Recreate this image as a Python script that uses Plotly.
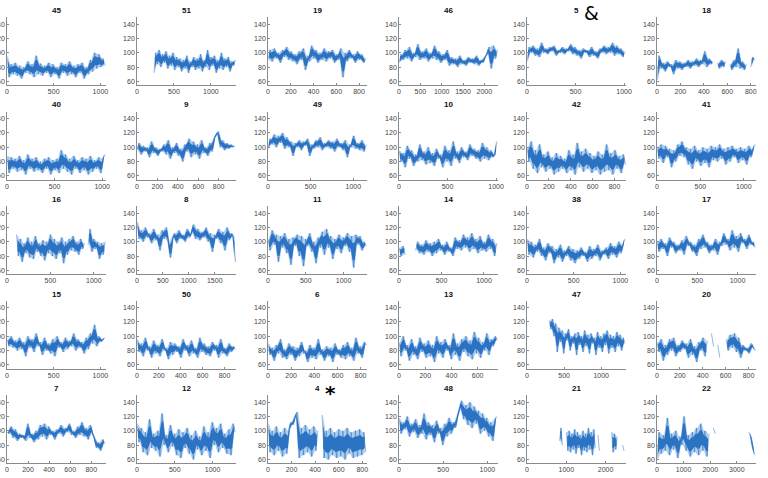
import numpy as np
import plotly.graph_objects as go

# ---- subplot titles, row by row ----
titles = ["45", "51", "19", "46", "5", "18",
          "40", "9", "49", "10", "42", "41",
          "16", "8", "11", "14", "38", "17",
          "15", "50", "6", "13", "47", "20",
          "7", "12", "4", "48", "21", "22"]

# first / last sample index of each trace and the x-axis limit
x_start = [0, 230, 0, 0, 0, 0,
           0, 0, 0, 0, 0, 0,
           110, 0, 0, 0, 0, 0,
           0, 0, 0, 0, 300, 0,
           0, 0, 0, 0, 830, 0]
x_end = [1050, 1330, 860, 2310, 1010, 835,
         1030, 960, 1150, 1010, 900, 1130,
         1130, 1900, 1300, 1150, 1050, 1220,
         1050, 900, 850, 750, 1320, 860,
         930, 1300, 830, 1110, 2470, 3680]
x_max = [1060, 1340, 870, 2320, 1020, 845,
         1040, 970, 1160, 1020, 905, 1140,
         1140, 1910, 1310, 1165, 1060, 1230,
         1060, 905, 855, 755, 1335, 865,
         940, 1310, 840, 1120, 2520, 3720]

# ---- values (alternating peaks / troughs) ----
s45 = [95,66,84,70,86,68,82,64,80,72,88,70,84,66,96,70,85,68,82,72,86,66,84,70,80,64,86,72,84,68,88,70,82,66,84,72,86,64,80,70,90,74,100,78,98,80,92,82]
s51 = [72,100,84,104,80,98,86,102,78,96,82,100,76,94,80,92,74,90,78,96,72,88,80,94,76,92,78,98,74,90,80,104,76,94,82,96,72,90,78,100,76,92,80,94,74,88,82,90]
s19 = [90,104,88,106,92,100,86,104,94,108,90,102,88,98,84,102,90,106,76,96,88,110,92,104,86,100,90,106,88,102,92,104,86,98,90,106,66,100,88,104,92,98,86,102,90,98,86,92]
s46 = [86,98,90,104,92,108,88,100,94,112,90,102,92,106,88,100,92,110,90,102,86,98,90,104,82,94,84,92,80,96,84,90,82,94,86,92,84,96,82,90,86,94,98,108,78,110,92,104]
s5 = [88,108,100,110,96,106,94,114,100,106,98,108,102,110,96,104,100,108,98,106,102,112,98,108,96,104,92,106,100,104,94,108,96,102,92,106,100,110,98,108,100,114,96,110,98,106,94,102]
s18 = [62,96,78,86,74,88,80,84,70,90,78,88,76,86,80,90,78,88,82,92,80,90,84,102,80,92,84,88,None,86,78,90,80,88,None,84,76,90,80,106,78,88,76,84,None,80,94,90]

s40 = [88,64,86,70,84,66,88,68,82,62,90,70,84,66,86,68,80,64,84,70,86,62,82,68,84,64,96,70,90,66,84,62,88,70,82,64,86,68,84,62,88,66,82,70,86,64,84,90]
s9 = [96,106,90,102,94,100,86,108,92,100,88,98,94,104,90,110,84,100,92,106,88,98,80,104,94,112,86,108,90,104,84,110,92,100,88,106,94,112,118,122,100,110,96,106,98,104,100,102]
s49 = [98,112,104,118,100,116,106,120,98,114,100,108,88,106,100,110,96,108,102,112,88,104,98,110,100,114,96,106,100,110,98,108,94,112,100,106,96,110,86,104,100,116,98,106,96,110,94,104]
s10 = [96,80,92,72,102,84,96,74,90,80,104,82,94,76,100,78,92,74,98,84,90,72,102,80,96,74,108,84,94,78,100,86,94,82,104,88,98,84,96,80,106,84,100,82,96,86,90,108]
s42 = [100,80,108,70,96,64,104,72,90,66,94,70,86,62,92,66,88,70,84,64,96,68,90,62,106,72,94,66,98,70,92,64,88,68,94,62,90,66,104,68,92,62,96,70,88,64,90,76]
s41 = [100,84,104,78,102,86,98,72,96,80,104,88,108,86,100,76,98,70,102,80,96,74,100,78,98,72,102,82,100,80,104,84,98,76,100,80,102,86,98,78,100,82,98,76,102,86,98,104]

s16 = [110,80,104,72,98,84,106,78,100,76,108,86,98,80,102,74,100,84,110,80,104,76,100,84,106,70,100,82,104,88,108,86,100,82,104,90,98,None,96,118,86,104,90,100,76,98,82,100]
s8 = [128,104,116,100,120,106,112,98,118,102,110,88,116,104,120,100,78,106,112,98,116,104,110,100,118,106,112,124,104,118,102,114,106,120,100,112,86,110,104,118,98,114,88,120,102,112,108,72]
s11 = [104,88,116,96,110,72,108,92,112,84,104,68,106,94,110,80,108,66,104,94,112,86,100,70,106,92,114,82,118,92,108,76,104,90,110,84,106,94,112,86,108,64,110,96,108,88,100,94]
s14 = [92,80,94,82,None,None,92,None,88,100,84,96,82,102,86,98,80,100,84,104,88,96,82,100,86,92,80,106,90,102,88,110,92,106,86,112,90,104,84,108,88,100,86,110,90,104,80,98]
s38 = [104,82,100,78,96,86,104,80,92,74,98,84,94,70,90,78,96,72,88,80,94,74,90,70,88,76,92,80,86,72,94,76,90,80,96,74,88,82,92,76,98,82,94,78,100,84,96,104]
s17 = [100,86,104,90,98,80,106,92,100,84,96,88,102,82,108,94,100,86,96,80,104,90,110,92,100,84,96,88,104,82,100,94,112,96,104,88,116,92,108,86,112,98,104,90,110,96,100,92]

s15 = [96,86,100,84,94,80,98,82,92,72,100,84,96,78,104,86,92,74,98,80,90,76,96,72,100,84,92,78,98,82,94,86,104,80,96,84,92,76,98,82,104,90,116,86,100,92,96,98]
s50 = [96,78,90,72,98,80,86,70,94,76,88,72,96,80,84,68,92,74,90,78,86,70,96,80,88,72,94,76,84,70,98,78,90,74,86,72,92,80,88,70,96,76,84,72,90,78,86,82]
s6 = [90,74,84,66,88,76,96,70,82,68,90,74,86,66,84,72,92,76,80,64,88,70,84,68,96,74,82,66,86,72,84,64,90,74,82,70,88,68,92,72,84,66,98,76,86,70,92,88]
s13 = [92,72,100,80,88,66,96,74,86,68,98,78,90,70,94,72,88,64,100,76,92,70,96,80,88,68,104,74,90,66,96,78,100,72,94,68,106,76,98,70,92,80,104,74,96,86,100,94]
s47 = [122,110,124,100,118,78,112,92,108,76,104,94,110,80,100,90,104,74,106,88,100,78,108,86,102,76,104,90,98,74,106,84,100,78,104,88,108,76,102,84,100,78,106,86,102,80,98,90]
s20 = [92,78,96,66,88,74,96,80,98,72,88,78,94,82,90,70,96,74,86,64,92,80,98,72,94,None,104,86,None,88,70,None,None,96,80,102,84,104,78,98,70,88,80,84,76,90,84,80]

s7 = [98,96,106,90,102,86,96,90,94,86,110,90,96,84,100,88,108,92,110,88,106,94,100,88,102,96,108,92,104,98,110,94,100,90,106,94,112,92,104,88,108,96,90,76,84,72,88,82]
s12 = [110,84,104,70,98,66,116,76,96,72,100,64,124,80,94,70,108,78,96,66,102,62,98,76,104,68,94,60,100,74,92,66,106,72,98,62,112,80,104,70,110,76,96,68,102,66,110,98]
s4 = [110,70,100,66,106,72,98,64,104,68,100,112,108,120,126,62,104,66,108,70,102,64,106,72,100,None,122,62,100,60,104,66,98,62,102,64,100,60,104,68,98,62,100,64,102,66,98,70]
s48 = [118,96,112,102,120,92,110,98,116,90,108,96,124,88,112,94,108,84,114,96,104,80,110,92,118,96,112,104,120,130,142,116,136,108,140,104,134,110,128,96,124,100,118,92,112,86,116,120]
s21 = [86,104,80,None,None,98,72,100,70,96,74,102,68,98,76,94,66,100,72,96,70,104,74,98,66,102,76,None,94,72,None,None,108,None,None,None,None,None,98,70,96,74,92,None,None,None,80,72]
s22 = [60,98,68,94,72,118,66,96,74,100,62,92,80,120,72,94,64,98,70,104,66,110,72,100,64,96,None,104,96,None,None,None,None,None,None,None,None,None,None,None,None,None,None,None,98,92,76,66]

series = [s45, s51, s19, s46, s5, s18,
          s40, s9, s49, s10, s42, s41,
          s16, s8, s11, s14, s38, s17,
          s15, s50, s6, s13, s47, s20,
          s7, s12, s4, s48, s21, s22]

y_ticks = [60, 80, 100, 120, 140]
y_range = [55, 150]

# ---- layout geometry (pixels) ----
W, H = 768, 478
col_left = [7, 137, 268, 399, 527, 657]
ax_w = 99
ax_h = 68
row_bottom0 = 85
row_step = 94.5


def runs_of(xs, vals):
    runs, cur = [], []
    for x, v in zip(xs, vals):
        if v is None:
            if cur:
                runs.append(cur)
            cur = []
        else:
            cur.append((x, v))
    if cur:
        runs.append(cur)
    return runs


def band_polygon(xs, vals, frac):
    """Pairwise envelope of the samples; frac<1 narrows it about its centre."""
    px, py = [], []
    for run in runs_of(xs, vals):
        if len(run) < 3:
            continue
        ux, uy, ly = [], [], []
        for a, b in zip(run[:-1], run[1:]):
            hi, lo = max(a[1], b[1]), min(a[1], b[1])
            mid, half = (hi + lo) / 2, (hi - lo) / 2 * frac
            ux.append((a[0] + b[0]) / 2)
            uy.append(mid + half)
            ly.append(mid - half)
        px += ux + ux[::-1] + [ux[0], None]
        py += uy + ly[::-1] + [uy[0], None]
    return px, py


fig = go.Figure()
layout = dict(width=W, height=H, margin=dict(l=0, r=0, t=0, b=0, autoexpand=False),
              paper_bgcolor="white", plot_bgcolor="white", showlegend=False,
              font=dict(family="Arial, Liberation Sans, sans-serif", size=8, color="#444"))
annotations = []

for i, (t, vals) in enumerate(zip(titles, series)):
    r, c = divmod(i, 6)
    n = i + 1
    xa = "x" if n == 1 else f"x{n}"
    ya = "y" if n == 1 else f"y{n}"
    xs = list(np.linspace(x_start[i], x_end[i], len(vals)))
    bx, by = band_polygon(xs, vals, 1.0)
    fig.add_trace(go.Scatter(x=bx, y=by, mode="lines", xaxis=xa, yaxis=ya,
                             fill="toself", fillcolor="rgba(120,172,228,0.6)",
                             line=dict(width=0), hoverinfo="skip"))
    cx, cy = band_polygon(xs, vals, 0.55)
    fig.add_trace(go.Scatter(x=cx, y=cy, mode="lines", xaxis=xa, yaxis=ya,
                             fill="toself", fillcolor="rgba(28,102,188,0.88)",
                             line=dict(width=0), hoverinfo="skip"))
    ys = [np.nan if v is None else v for v in vals]
    fig.add_trace(go.Scatter(x=xs, y=ys, mode="lines", xaxis=xa, yaxis=ya,
                             line=dict(color="rgba(40,115,195,0.85)", width=0.6),
                             connectgaps=False, hoverinfo="skip"))
    left = col_left[c]
    bottom = row_bottom0 + row_step * r
    top = bottom - ax_h
    xd = [left / W, (left + ax_w) / W]
    yd = [1 - bottom / H, 1 - top / H]
    xm = x_max[i]
    step = 200 if xm < 1000 else (500 if xm < 2500 else 1000)
    xt = list(range(0, int(xm) + 1, step))
    axcommon = dict(showgrid=False, zeroline=False, showline=True, linecolor="#8a8a8a",
                    linewidth=0.6, ticks="inside", ticklen=2, tickcolor="#8a8a8a",
                    tickwidth=0.6, tickfont=dict(size=7, color="#444"),
                    automargin=False)
    layout["xaxis" + ("" if n == 1 else str(n))] = dict(
        domain=xd, range=[0, xm], tickvals=xt, anchor=ya, **axcommon)
    layout["yaxis" + ("" if n == 1 else str(n))] = dict(
        domain=yd, range=y_range, tickvals=y_ticks, anchor=xa, **axcommon)
    annotations.append(dict(text=f"<b>{t}</b>", x=(xd[0] + xd[1]) / 2, y=yd[1],
                            xref="paper", yref="paper", xanchor="center", yanchor="bottom",
                            yshift=0, showarrow=False,
                            font=dict(size=8, color="#111")))

# markers next to two titles
annotations.append(dict(text="&", x=591 / W, y=1 - 13 / H, xref="paper", yref="paper",
                        xanchor="center", yanchor="middle",
                        showarrow=False, font=dict(size=19, color="black",
                        family="DejaVu Sans")))
annotations.append(dict(text="<b>*</b>", x=330 / W, y=1 - 393 / H, xref="paper", yref="paper",
                        xanchor="center", yanchor="middle",
                        showarrow=False, font=dict(size=20, color="black",
                        family="DejaVu Sans")))
layout["annotations"] = annotations
fig.update_layout(**layout)
fig.write_html("out.html")
